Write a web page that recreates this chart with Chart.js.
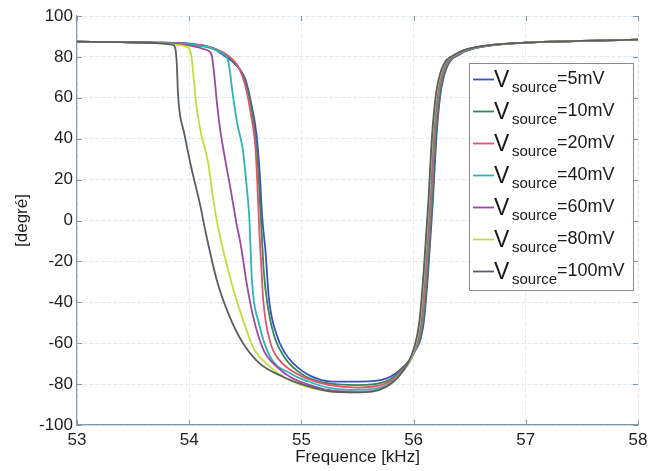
<!DOCTYPE html>
<html>
<head>
<meta charset="utf-8">
<script src="https://cdn.jsdelivr.net/npm/chart.js@4/dist/chart.umd.min.js"></script>
<style>
html,body{margin:0;padding:0;background:#fff;}
#wrap{width:660px;height:471px;}
</style>
</head>
<body>
<div id="wrap"><canvas id="c" width="660" height="471"></canvas></div>
<script>
// ---- data ----
const vSourceLabels = ['5mV','10mV','20mV','40mV','60mV','80mV','100mV'];
const xTicks = [53, 54, 55, 56, 57, 58];
const yTicks = [-100, -80, -60, -40, -20, 0, 20, 40, 60, 80, 100];

const freq5   = [53.0,53.4,53.7,54.0,54.2,54.3,54.4,54.5,54.55,54.6,54.63,54.65,54.68,54.71,54.78,54.85,54.93,55.08,55.28,55.52,55.76,55.91,56.0,56.09,56.13,56.17,56.205,56.24,56.29,56.42,56.62,57.0,57.5,58.0];
const phase5  = [87.4,87.2,87.0,86.5,84.5,81,77,69,58,42,22,2,-15,-38,-56,-64.5,-70,-76,-78.8,-78.8,-77.2,-71.5,-65,-50,-25,8,42,62,74,81.5,85,87,87.8,88.4];

const freq10  = [53.0,53.4,53.7,54.0,54.2,54.35,54.45,54.52,54.57,54.61,54.63,54.645,54.665,54.7,54.76,54.85,55.0,55.2,55.5,55.75,55.9,56.0,56.085,56.125,56.165,56.2,56.235,56.285,56.415,56.615,57.0,57.5,58.0];
const phase10 = [87.4,87.2,87.0,86.3,84.4,80,74,64,50,30,10,-5,-25,-42,-57,-67,-75,-79.3,-80.5,-78.8,-72.5,-65,-50,-25,8,42,62,74,81.5,85,87,87.8,88.4];

const freq20  = [53.0,53.4,53.7,54.0,54.2,54.35,54.44,54.5,54.55,54.59,54.61,54.625,54.64,54.66,54.72,54.8,54.9,55.05,55.25,55.5,55.75,55.9,56.0,56.075,56.115,56.155,56.19,56.225,56.275,56.405,56.605,57.0,57.5,58.0];
const phase20 = [87.4,87.2,87.0,86.2,84.6,80.5,75,66,52,36,15,-5,-20,-39,-59,-68,-73,-77.3,-80.5,-81.7,-79.8,-73,-65,-50,-25,8,42,62,74,81.5,85,87,87.8,88.4];

const freq40  = [53.0,53.4,53.7,54.0,54.2,54.3,54.35,54.39,54.43,54.48,54.51,54.535,54.56,54.62,54.72,54.9,55.05,55.25,55.5,55.75,55.9,56.0,56.065,56.105,56.145,56.18,56.215,56.265,56.395,56.595,57.0,57.5,58.0];
const phase40 = [87.4,87.2,86.9,86.0,84.2,81.5,77.5,61,47,34,18,2,-30,-50,-66.5,-74.7,-78.5,-81.8,-82.8,-80.8,-73.5,-65,-50,-25,8,42,62,74,81.5,85,87,87.8,88.4];

const freq60  = [53.0,53.4,53.7,54.0,54.15,54.2,54.22,54.25,54.28,54.32,54.37,54.42,54.46,54.51,54.57,54.66,54.78,54.9,55.05,55.25,55.5,55.75,55.9,56.0,56.06,56.1,56.14,56.175,56.21,56.26,56.39,56.59,57.0,57.5,58.0];
const phase60 = [87.4,87.2,86.9,85.6,83.5,81,73,56,43,30,15,-1,-12,-30,-47,-63,-71.5,-76.5,-80,-83,-83.8,-81.3,-74,-64.5,-50,-25,8,42,62,74,81.5,85,87,87.8,88.4];

const freq80  = [53.0,53.4,53.7,53.9,54.0,54.02,54.04,54.06,54.1,54.17,54.21,54.26,54.38,54.47,54.57,54.72,54.84,55.0,55.25,55.5,55.75,55.9,56.0,56.055,56.095,56.135,56.17,56.205,56.255,56.385,56.585,57.0,57.5,58.0];
const phase80 = [87.4,87.2,86.8,85.8,84.0,80,70,58,44,28,12,-4,-31,-47,-62,-71.5,-76.5,-80.5,-83.5,-84,-81.5,-74,-64,-50,-25,8,42,62,74,81.5,85,87,87.8,88.4];

const freq100  = [53.0,53.4,53.7,53.85,53.875,53.89,53.9,53.92,53.95,54.01,54.1,54.14,54.25,54.36,54.48,54.63,54.84,55.0,55.25,55.5,55.75,55.9,56.0,56.05,56.09,56.13,56.165,56.2,56.25,56.38,56.58,57.0,57.5,58.0];
const phase100 = [87.4,87.2,86.8,86.0,84.5,76,62,51,44,28,7,-4,-30,-47,-60,-70,-76.5,-80,-83.5,-84,-81.5,-74,-63,-50,-25,8,42,62,74,81.5,85,87,87.8,88.4];

const seriesFreq  = [freq5, freq10, freq20, freq40, freq60, freq80, freq100];
const seriesPhase = [phase5, phase10, phase20, phase40, phase60, phase80, phase100];

// ---- styles ----
const lineColors = ['#3d4fc0', '#2f8a55', '#e9506a', '#2fb3b6', '#9c48a4', '#c5dc3a', '#585e66'];
const FONT = "'Liberation Sans', Arial, Helvetica, sans-serif";
const AXIS_COLOR = '#8197ad';
Chart.defaults.font.family = FONT;

const datasets = seriesFreq.map((fr, i) => ({
  label: 'V_source=' + vSourceLabels[i],
  data: fr.map((f, k) => ({x: f, y: seriesPhase[i][k]})),
  borderColor: lineColors[i],
  backgroundColor: lineColors[i],
  borderWidth: 1.8,
  pointRadius: 0,
  fill: false,
  cubicInterpolationMode: 'monotone',
  order: seriesFreq.length - i
}));

const innerTicks = {
  id: 'innerTicks',
  afterDraw(chart) {
    const {ctx, chartArea: a, scales: {x, y}} = chart;
    ctx.save();
    ctx.strokeStyle = AXIS_COLOR;
    ctx.lineWidth = 1;
    ctx.beginPath();
    xTicks.forEach(v => {
      const px = Math.round(x.getPixelForValue(v)) + 0.5;
      ctx.moveTo(px, a.bottom); ctx.lineTo(px, a.bottom - 5);
      ctx.moveTo(px, a.top); ctx.lineTo(px, a.top + 5);
    });
    yTicks.forEach(v => {
      const py = Math.round(y.getPixelForValue(v)) + 0.5;
      ctx.moveTo(a.left, py); ctx.lineTo(a.left + 5, py);
      ctx.moveTo(a.right, py); ctx.lineTo(a.right - 5, py);
    });
    ctx.stroke();
    ctx.restore();
  }
};

const subLegend = {
  id: 'subLegend',
  afterDatasetsDraw(chart) {
    const ctx = chart.ctx;
    const bx = 469, by = 63, bw = 164, bh = 227, step = 32;
    ctx.save();
    ctx.fillStyle = '#ffffff';
    ctx.fillRect(bx, by, bw, bh);
    ctx.strokeStyle = '#8a8a8a';
    ctx.lineWidth = 1;
    ctx.strokeRect(bx + 0.5, by + 0.5, bw, bh);
    vSourceLabels.forEach((lab, i) => {
      const ly = 79 + step * i;
      ctx.strokeStyle = lineColors[i];
      ctx.lineWidth = 1.8;
      ctx.beginPath();
      ctx.moveTo(473, ly + 0.5); ctx.lineTo(494, ly + 0.5);
      ctx.stroke();
      ctx.fillStyle = '#1a1a1a';
      ctx.textBaseline = 'alphabetic';
      ctx.textAlign = 'left';
      ctx.font = '23px ' + FONT;
      ctx.fillText('V', 494, ly + 8);
      ctx.font = '15px ' + FONT;
      ctx.fillText('source', 512, ly + 13);
      ctx.font = '18px ' + FONT;
      ctx.fillText('=' + lab, 557, ly + 4.5);
    });
    ctx.restore();
  }
};

new Chart(document.getElementById('c'), {
  type: 'line',
  data: { datasets },
  options: {
    responsive: false,
    animation: false,
    layout: { padding: { left: 0, right: 22, top: 16, bottom: 0 } },
    plugins: { legend: { display: false }, tooltip: { enabled: false } },
    scales: {
      x: {
        type: 'linear',
        min: 53, max: 58,
        afterBuildTicks(scale) { scale.ticks = xTicks.map(v => ({value: v})); },
        afterFit(scale) { scale.height = 46; },
        ticks: { color: '#1e1e1e', font: { size: 17 }, padding: 5, maxRotation: 0 },
        grid: { color: '#e4e9ed', lineWidth: 1, drawTicks: false },
        border: { color: AXIS_COLOR, width: 1.2, dash: [4, 2] },
        title: { display: true, text: 'Frequence [kHz]', color: '#1e1e1e', font: { size: 17 }, padding: { top: 0, bottom: 3 } }
      },
      y: {
        min: -100, max: 100,
        afterBuildTicks(scale) { scale.ticks = yTicks.map(v => ({value: v})); },
        afterFit(scale) { scale.width = 77; },
        ticks: { color: '#1e1e1e', font: { size: 17 }, padding: 4 },
        grid: { color: '#e4e9ed', lineWidth: 1, drawTicks: false },
        border: { color: AXIS_COLOR, width: 1.2, dash: [4, 2] },
        title: { display: true, text: '[degré]', color: '#1e1e1e', font: { size: 17 }, padding: { top: 12, bottom: 0 } }
      }
    }
  },
  plugins: [innerTicks, subLegend]
});
</script>
</body>
</html>
